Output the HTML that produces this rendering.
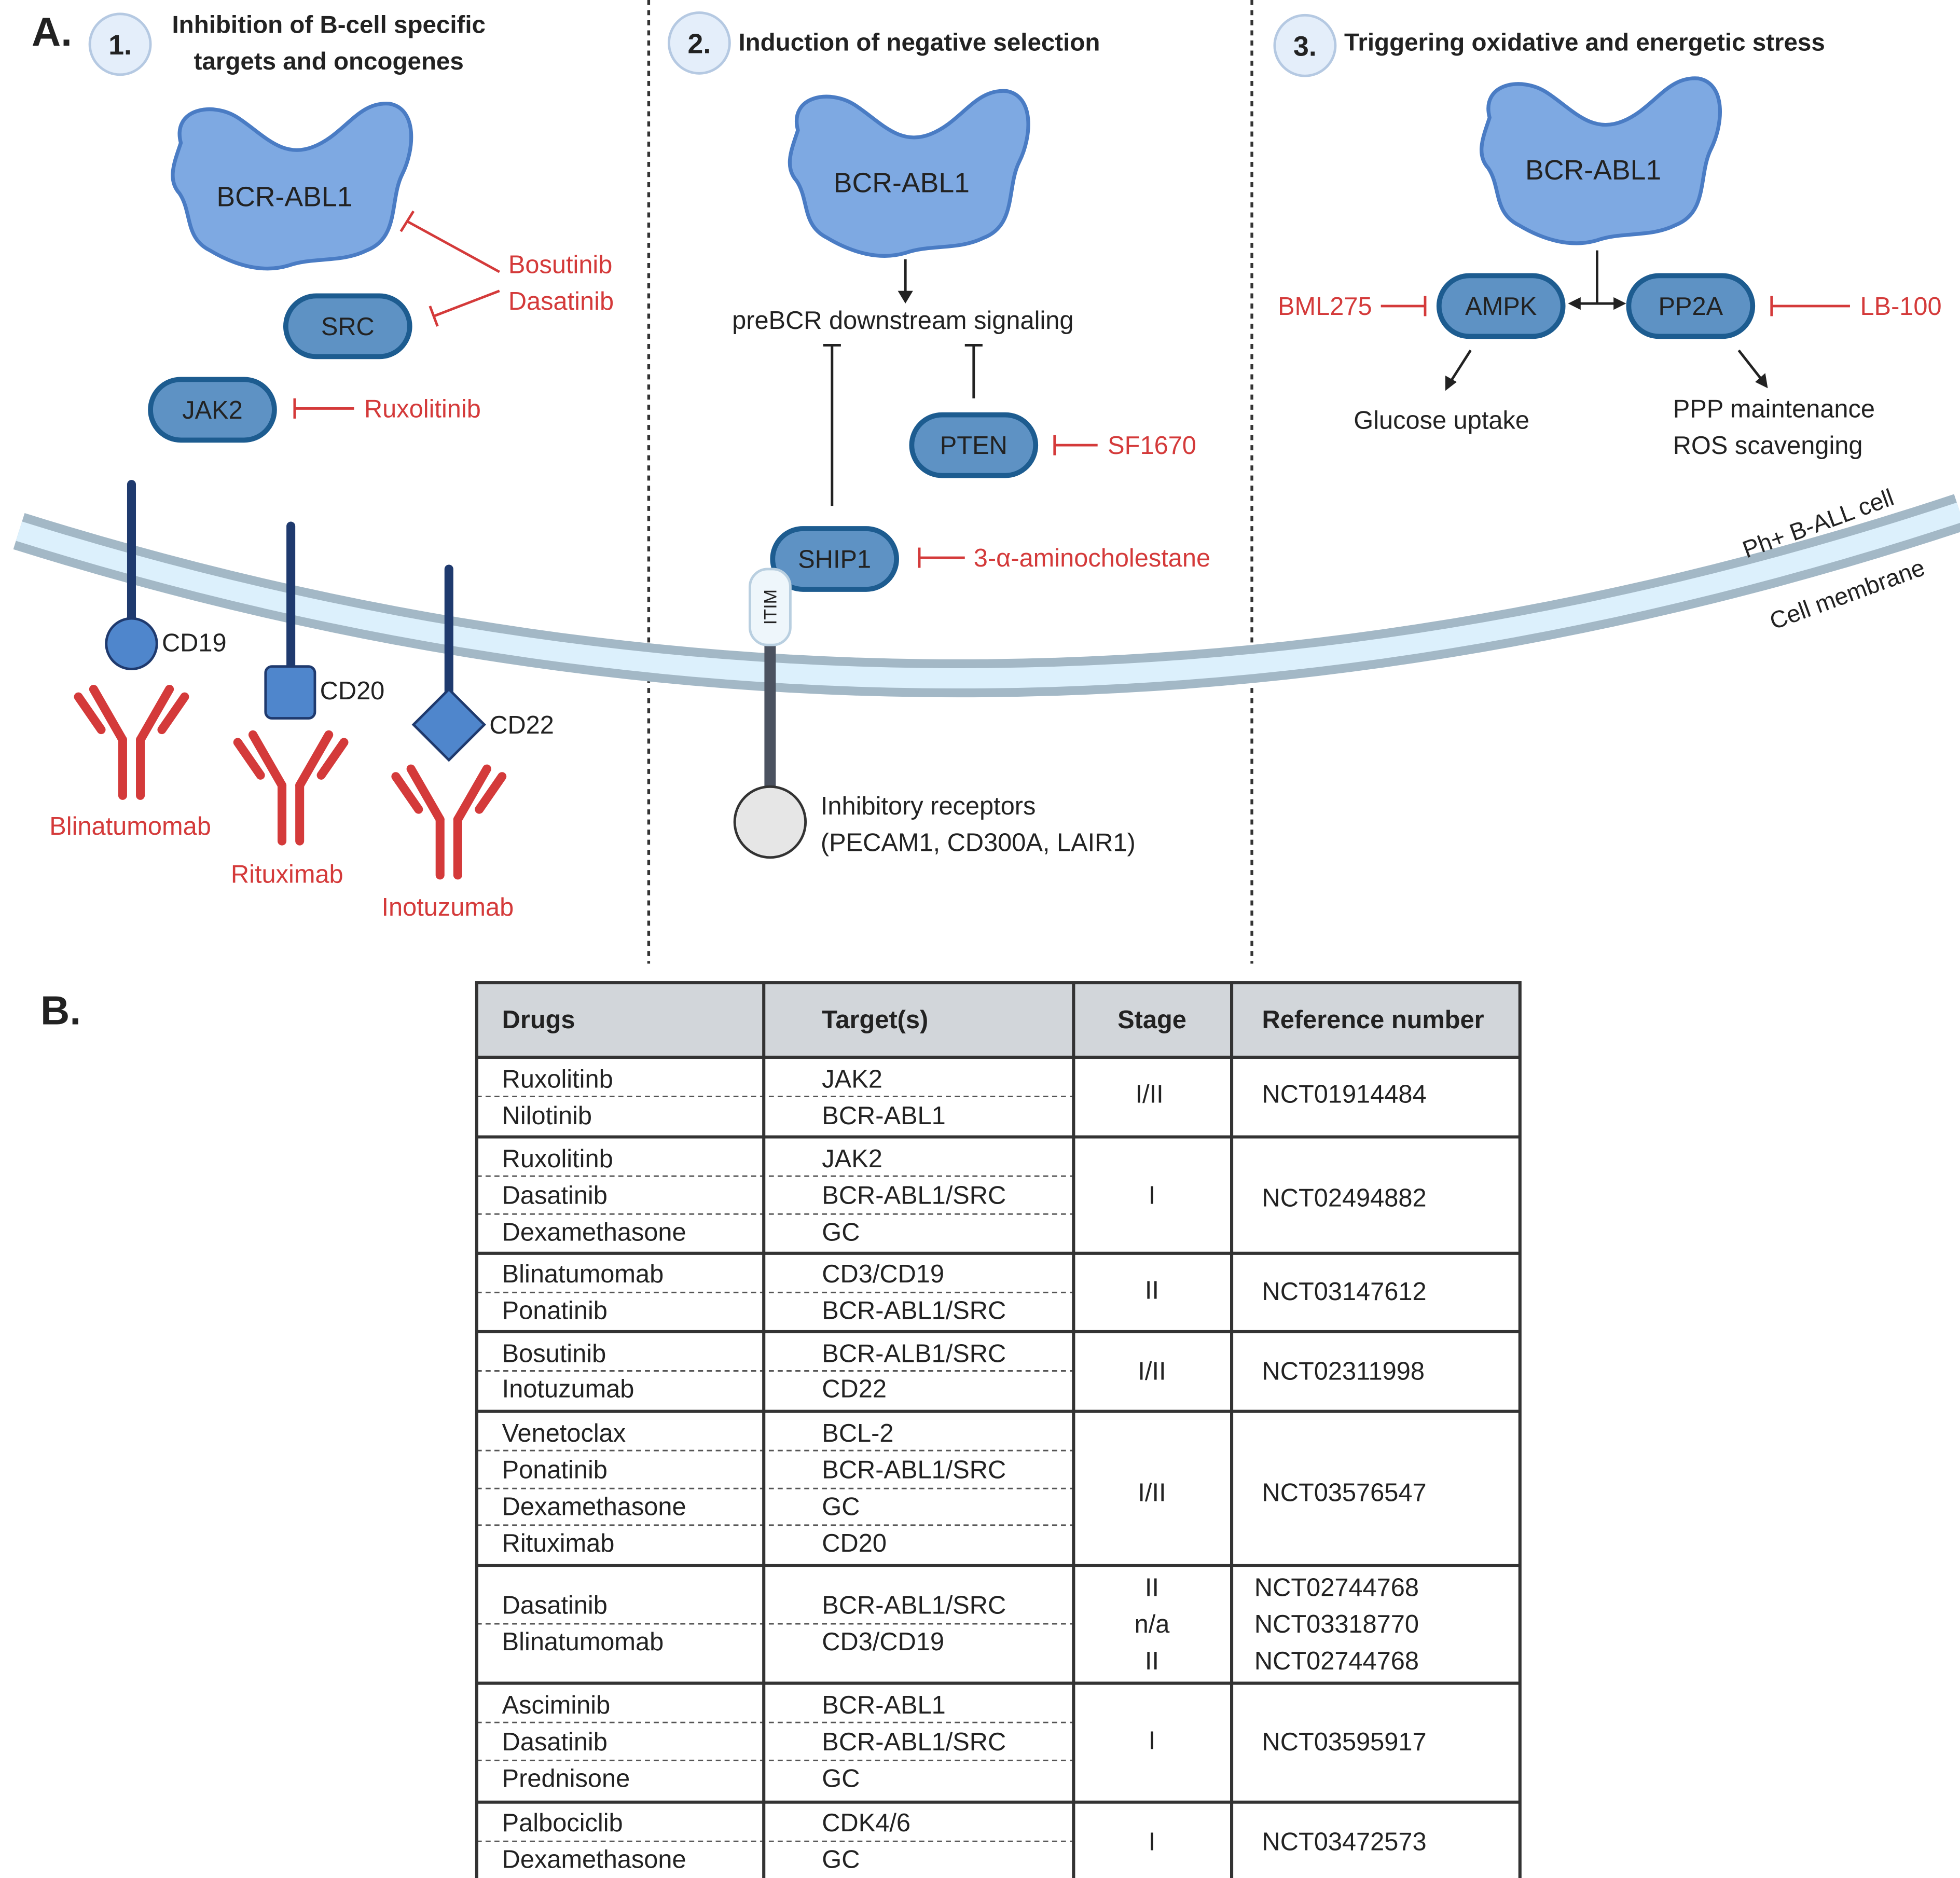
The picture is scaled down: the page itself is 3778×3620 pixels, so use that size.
<!DOCTYPE html>
<html><head><meta charset="utf-8"><style>
html,body{margin:0;padding:0;background:#fff}
svg{display:block}
text{font-family:"Liberation Sans",sans-serif}
</style></head><body>
<svg width="3778" height="3620" viewBox="0 0 1550 1485" preserveAspectRatio="none" xmlns="http://www.w3.org/2000/svg">
<defs>
<path id="blob" d="M-85,-35 C-92,-62 -60,-68 -40,-55 C-20,-42 -5,-22 20,-32 C45,-42 55,-68 80,-66 C102,-62 100,-30 90,-10 C80,10 88,40 62,50 C42,60 20,55 0,62 C-20,68 -42,62 -62,50 C-82,40 -76,20 -86,5 C-96,-6 -90,-20 -85,-35 Z" fill="#7ea9e2" stroke="#4a7cc4" stroke-width="3"/>
<g id="ab" fill="none" stroke="#d43a3a" stroke-width="7" stroke-linecap="round">
<line x1="-7" y1="48" x2="-7" y2="92"/><line x1="7" y1="48" x2="7" y2="92"/>
<line x1="-7" y1="48" x2="-30" y2="8"/><line x1="7" y1="48" x2="30" y2="8"/>
<line x1="-24" y1="40" x2="-42" y2="14"/><line x1="24" y1="40" x2="42" y2="14"/>
</g>
</defs>
<rect width="1550" height="1485" fill="#fff"/>
<!-- dividers -->
<line x1="513" y1="0" x2="513" y2="762" stroke="#333" stroke-width="2.2" stroke-dasharray="4,4"/>
<line x1="990" y1="0" x2="990" y2="762" stroke="#333" stroke-width="2.2" stroke-dasharray="4,4"/>
<!-- membrane -->
<path d="M15,420 Q780,660 1550,405" fill="none" stroke="#a3b8c6" stroke-width="30"/>
<path d="M15,420 Q780,660 1550,405" fill="none" stroke="#dcf0fc" stroke-width="16"/>
<text x="1440" y="420" font-size="19" fill="#222" transform="rotate(-20 1440 420)" text-anchor="middle">Ph+ B-ALL cell</text>
<text x="1463" y="476" font-size="19" fill="#222" transform="rotate(-20 1463 476)" text-anchor="middle">Cell membrane</text>
<!-- headers -->
<text x="25" y="36" font-size="32" font-weight="bold" fill="#222">A.</text>
<circle cx="95" cy="35" r="24" fill="#e4eefa" stroke="#b5c9e2" stroke-width="2"/>
<text x="95" y="43" font-size="22" font-weight="bold" text-anchor="middle" fill="#222">1.</text>
<text x="260" y="26" font-size="19.5" font-weight="bold" text-anchor="middle" fill="#222">Inhibition of B-cell specific</text>
<text x="260" y="55" font-size="19.5" font-weight="bold" text-anchor="middle" fill="#222">targets and oncogenes</text>
<circle cx="553" cy="34" r="24" fill="#e4eefa" stroke="#b5c9e2" stroke-width="2"/>
<text x="553" y="42" font-size="22" font-weight="bold" text-anchor="middle" fill="#222">2.</text>
<text x="584" y="40" font-size="19.5" font-weight="bold" fill="#222">Induction of negative selection</text>
<circle cx="1032" cy="36" r="24" fill="#e4eefa" stroke="#b5c9e2" stroke-width="2"/>
<text x="1032" y="44" font-size="22" font-weight="bold" text-anchor="middle" fill="#222">3.</text>
<text x="1063" y="40" font-size="19.5" font-weight="bold" fill="#222">Triggering oxidative and energetic stress</text>
<!-- blobs -->
<use href="#blob" transform="translate(228,148)"/>
<text x="225" y="163" font-size="22" text-anchor="middle" fill="#222">BCR-ABL1</text>
<use href="#blob" transform="translate(716,138)"/>
<text x="713" y="152" font-size="22" text-anchor="middle" fill="#222">BCR-ABL1</text>
<use href="#blob" transform="translate(1263,128)"/>
<text x="1260" y="142" font-size="22" text-anchor="middle" fill="#222">BCR-ABL1</text>
<!-- pills -->
<g fill="#5e92c4" stroke="#1d5c90" stroke-width="4">
<rect x="226" y="234" width="98" height="48" rx="24"/>
<rect x="119" y="300" width="98" height="48" rx="24"/>
<rect x="721" y="328" width="98" height="48" rx="24"/>
<rect x="611" y="418" width="98" height="48" rx="24"/>
<rect x="1138" y="218" width="98" height="48" rx="24"/>
<rect x="1288" y="218" width="98" height="48" rx="24"/>
</g>
<g font-size="20" text-anchor="middle" fill="#222">
<text x="275" y="265">SRC</text><text x="168" y="331">JAK2</text>
<text x="770" y="359">PTEN</text><text x="660" y="449">SHIP1</text>
<text x="1187" y="249">AMPK</text><text x="1337" y="249">PP2A</text>
</g>
<!-- red inhibitors -->
<g stroke="#d43a3a" stroke-width="2" fill="none">
<line x1="395" y1="215" x2="322" y2="175"/><line x1="317" y1="183" x2="327" y2="167"/>
<line x1="395" y1="230" x2="343" y2="250"/><line x1="340" y1="242" x2="346" y2="258"/>
<line x1="233" y1="323" x2="280" y2="323"/><line x1="233" y1="315" x2="233" y2="331"/>
<line x1="834" y1="352" x2="868" y2="352"/><line x1="834" y1="344" x2="834" y2="360"/>
<line x1="727" y1="441" x2="763" y2="441"/><line x1="727" y1="433" x2="727" y2="449"/>
<line x1="1092" y1="242" x2="1127" y2="242"/><line x1="1127" y1="234" x2="1127" y2="250"/>
<line x1="1401" y1="242" x2="1463" y2="242"/><line x1="1401" y1="234" x2="1401" y2="250"/>
</g>
<g font-size="20" fill="#d43a3a">
<text x="402" y="216">Bosutinib</text><text x="402" y="245">Dasatinib</text>
<text x="288" y="330">Ruxolitinib</text><text x="876" y="359">SF1670</text>
<text x="770" y="448">3-α-aminocholestane</text>
<text x="1085" y="249" text-anchor="end">BML275</text><text x="1471" y="249">LB-100</text>
<text x="103" y="660" text-anchor="middle">Blinatumomab</text>
<text x="227" y="698" text-anchor="middle">Rituximab</text>
<text x="354" y="724" text-anchor="middle">Inotuzumab</text>
</g>
<!-- black arrows -->
<g stroke="#222" stroke-width="2" fill="none">
<line x1="716" y1="205" x2="716" y2="232"/>
<line x1="658" y1="400" x2="658" y2="273"/><line x1="651" y1="273" x2="665" y2="273"/>
<line x1="770" y1="315" x2="770" y2="273"/><line x1="763" y1="273" x2="777" y2="273"/>
<line x1="1263" y1="198" x2="1263" y2="240"/>
<line x1="1248" y1="240" x2="1278" y2="240"/>
<line x1="1163" y1="277" x2="1147" y2="302"/>
<line x1="1375" y1="277" x2="1393" y2="300"/>
</g>
<g fill="#222">
<polygon points="710,230 722,230 716,240"/>
<polygon points="1240,240 1250,235 1250,245"/><polygon points="1286,240 1276,235 1276,245"/>
<polygon points="1143,309 1143,297 1152,302"/>
<polygon points="1398,307 1388,302 1396,295"/>
</g>
<g font-size="20" fill="#222">
<text x="714" y="260" text-anchor="middle">preBCR downstream signaling</text>
<text x="1140" y="339" text-anchor="middle">Glucose uptake</text>
<text x="1323" y="330">PPP maintenance</text><text x="1323" y="359">ROS scavenging</text>
<text x="649" y="644">Inhibitory receptors</text>
<text x="649" y="673">(PECAM1, CD300A, LAIR1)</text>
<text x="128" y="515">CD19</text><text x="253" y="553">CD20</text><text x="387" y="580">CD22</text>
</g>
<!-- receptors -->
<g stroke="#1f3a6e" stroke-width="7" stroke-linecap="round">
<line x1="104" y1="383" x2="104" y2="490"/>
<line x1="230" y1="416" x2="230" y2="527"/>
<line x1="355" y1="450" x2="355" y2="550"/>
</g>
<circle cx="104" cy="509" r="20" fill="#4f86cc" stroke="#1f3a6e" stroke-width="2"/>
<rect x="210" y="527" width="39" height="41" rx="5" fill="#4f86cc" stroke="#1f3a6e" stroke-width="2"/>
<polygon points="355,545 383,573 355,601 327,573" fill="#4f86cc" stroke="#1f3a6e" stroke-width="2"/>
<use href="#ab" transform="translate(104,537)"/>
<use href="#ab" transform="translate(230,573)"/>
<use href="#ab" transform="translate(355,600)"/>
<!-- ITIM -->
<line x1="609" y1="505" x2="609" y2="625" stroke="#4b5260" stroke-width="9"/>
<rect x="593" y="450" width="32" height="60" rx="14" fill="#eef6fb" stroke="#b9cfe0" stroke-width="2"/>
<text x="609" y="480" font-size="14" fill="#222" text-anchor="middle" transform="rotate(-90 609 480)" dy="5">ITIM</text>
<circle cx="609" cy="650" r="28" fill="#e6e6e6" stroke="#333" stroke-width="2"/>
<!-- B -->
<text x="32" y="810" font-size="32" font-weight="bold" fill="#222">B.</text>
<!-- table -->
<rect x="377" y="777" width="825" height="59" fill="#d2d6da"/>
<g stroke="#555" stroke-width="1.2" stroke-dasharray="4,3">
<line x1="377" y1="867" x2="849" y2="867"/>
<line x1="377" y1="930" x2="849" y2="930"/><line x1="377" y1="960" x2="849" y2="960"/>
<line x1="377" y1="1022" x2="849" y2="1022"/>
<line x1="377" y1="1084" x2="849" y2="1084"/>
<line x1="377" y1="1147" x2="849" y2="1147"/><line x1="377" y1="1177" x2="849" y2="1177"/><line x1="377" y1="1206" x2="849" y2="1206"/>
<line x1="377" y1="1284" x2="849" y2="1284"/>
<line x1="377" y1="1362" x2="849" y2="1362"/><line x1="377" y1="1392" x2="849" y2="1392"/>
<line x1="377" y1="1456" x2="849" y2="1456"/>
</g>
<g stroke="#333" stroke-width="2.5" fill="none">
<rect x="377" y="777" width="825" height="711"/>
<line x1="604" y1="777" x2="604" y2="1488"/><line x1="849" y1="777" x2="849" y2="1488"/><line x1="974" y1="777" x2="974" y2="1488"/>
<line x1="377" y1="836" x2="1202" y2="836"/><line x1="377" y1="899" x2="1202" y2="899"/>
<line x1="377" y1="991" x2="1202" y2="991"/><line x1="377" y1="1053" x2="1202" y2="1053"/>
<line x1="377" y1="1116" x2="1202" y2="1116"/><line x1="377" y1="1238" x2="1202" y2="1238"/>
<line x1="377" y1="1331" x2="1202" y2="1331"/><line x1="377" y1="1425" x2="1202" y2="1425"/>
</g>
<g font-size="20" font-weight="bold" fill="#222">
<text x="397" y="813">Drugs</text><text x="650" y="813">Target(s)</text>
<text x="911" y="813" text-anchor="middle">Stage</text><text x="998" y="813">Reference number</text>
</g>
<g font-size="20" fill="#222">
<text x="397" y="860">Ruxolitinb</text><text x="650" y="860">JAK2</text>
<text x="397" y="889">Nilotinib</text><text x="650" y="889">BCR-ABL1</text>
<text x="909" y="872" text-anchor="middle">I/II</text><text x="998" y="872">NCT01914484</text>
<text x="397" y="923">Ruxolitinb</text><text x="650" y="923">JAK2</text>
<text x="397" y="952">Dasatinib</text><text x="650" y="952">BCR-ABL1/SRC</text>
<text x="397" y="981">Dexamethasone</text><text x="650" y="981">GC</text>
<text x="911" y="952" text-anchor="middle">I</text><text x="998" y="954">NCT02494882</text>
<text x="397" y="1014">Blinatumomab</text><text x="650" y="1014">CD3/CD19</text>
<text x="397" y="1043">Ponatinib</text><text x="650" y="1043">BCR-ABL1/SRC</text>
<text x="911" y="1027" text-anchor="middle">II</text><text x="998" y="1028">NCT03147612</text>
<text x="397" y="1077">Bosutinib</text><text x="650" y="1077">BCR-ALB1/SRC</text>
<text x="397" y="1105">Inotuzumab</text><text x="650" y="1105">CD22</text>
<text x="911" y="1091" text-anchor="middle">I/II</text><text x="998" y="1091">NCT02311998</text>
<text x="397" y="1140">Venetoclax</text><text x="650" y="1140">BCL-2</text>
<text x="397" y="1169">Ponatinib</text><text x="650" y="1169">BCR-ABL1/SRC</text>
<text x="397" y="1198">Dexamethasone</text><text x="650" y="1198">GC</text>
<text x="397" y="1227">Rituximab</text><text x="650" y="1227">CD20</text>
<text x="911" y="1187" text-anchor="middle">I/II</text><text x="998" y="1187">NCT03576547</text>
<text x="397" y="1276">Dasatinib</text><text x="650" y="1276">BCR-ABL1/SRC</text>
<text x="397" y="1305">Blinatumomab</text><text x="650" y="1305">CD3/CD19</text>
<text x="911" y="1262" text-anchor="middle">II</text><text x="911" y="1291" text-anchor="middle">n/a</text><text x="911" y="1320" text-anchor="middle">II</text>
<text x="992" y="1262">NCT02744768</text><text x="992" y="1291">NCT03318770</text><text x="992" y="1320">NCT02744768</text>
<text x="397" y="1355">Asciminib</text><text x="650" y="1355">BCR-ABL1</text>
<text x="397" y="1384">Dasatinib</text><text x="650" y="1384">BCR-ABL1/SRC</text>
<text x="397" y="1413">Prednisone</text><text x="650" y="1413">GC</text>
<text x="911" y="1383" text-anchor="middle">I</text><text x="998" y="1384">NCT03595917</text>
<text x="397" y="1448">Palbociclib</text><text x="650" y="1448">CDK4/6</text>
<text x="397" y="1477">Dexamethasone</text><text x="650" y="1477">GC</text>
<text x="911" y="1463" text-anchor="middle">I</text><text x="998" y="1463">NCT03472573</text>
</g>
</svg>
</body></html>
